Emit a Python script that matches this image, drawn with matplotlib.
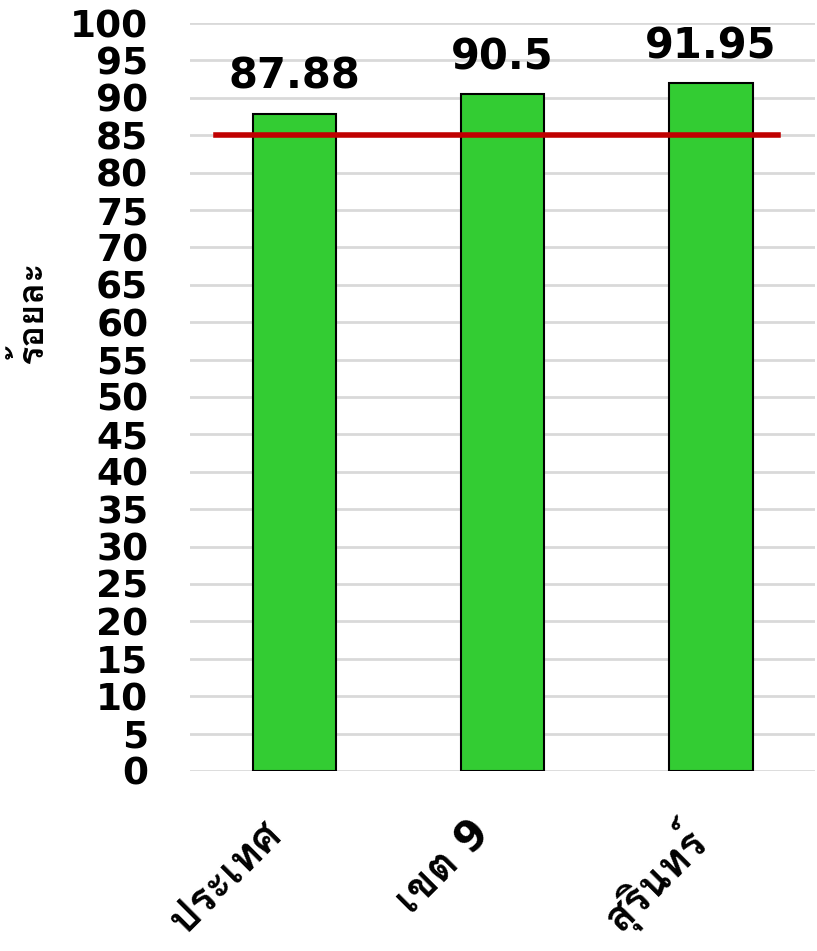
import matplotlib
matplotlib.use("Agg")
import matplotlib.pyplot as plt
from matplotlib import font_manager
from matplotlib.ft2font import FT2Font
from matplotlib.transforms import ScaledTranslation

categories = ["ประเทศ", "เขต 9", "สุรินทร์"]
values = [87.88, 90.5, 91.95]
value_labels = ["87.88", "90.5", "91.95"]
target = 85
y_label = "ร้อยละ"


def find_thai_font():
    # look for any installed font that can draw Thai
    for f in font_manager.fontManager.ttflist:
        try:
            ft = FT2Font(f.fname)
            if ft.get_char_index(ord("ร")) and ft.get_char_index(ord("ป")):
                return f.name
        except Exception:
            pass
    return None


thai = find_thai_font()
families = ["DejaVu Sans"] + ([thai] if thai else [])
plt.rcParams["font.family"] = families
plt.rcParams["font.weight"] = "bold"

fig = plt.figure(figsize=(8.17, 9.51), dpi=100)
ax = fig.add_axes([0.2326, 0.1893, 0.765, 0.7865])

x = list(range(len(categories)))
ax.bar(x, values, width=0.4, color="#33CC33", edgecolor="black", linewidth=1.5, zorder=3)
ax.plot([-0.375, 2.32], [target, target], color="#C00000", linewidth=4, zorder=4)

for xi, v, lab in zip(x, values, value_labels):
    ax.text(xi, v + 2.1, lab, ha="center", va="bottom", fontsize=30, fontweight="bold", zorder=5)

ax.set_xlim(-0.5, 2.5)
ax.set_ylim(0, 100)
ax.set_yticks(range(0, 101, 5))
ax.set_yticklabels([str(t) for t in range(0, 101, 5)], fontsize=27, fontweight="bold")
ax.set_xticks(x)
ax.set_xticklabels(categories, rotation=45, ha="right", rotation_mode="anchor",
                   fontsize=30, fontweight="bold", family=families)
ax.tick_params(axis="y", length=0, pad=30)
ax.tick_params(axis="x", length=0, pad=30)

# shift the slanted labels left like the original
shift = ScaledTranslation(-0.34, 0, fig.dpi_scale_trans)
for lab in ax.get_xticklabels():
    lab.set_transform(lab.get_transform() + shift)

ax.grid(axis="y", color="#D9D9D9", linewidth=2, zorder=0)
for s in ax.spines.values():
    s.set_visible(False)

fig.text(0.037, 0.672, y_label, rotation=90, ha="center", va="center",
         fontsize=26, fontweight="bold", family=families)

fig.savefig("out.png", dpi=100)
